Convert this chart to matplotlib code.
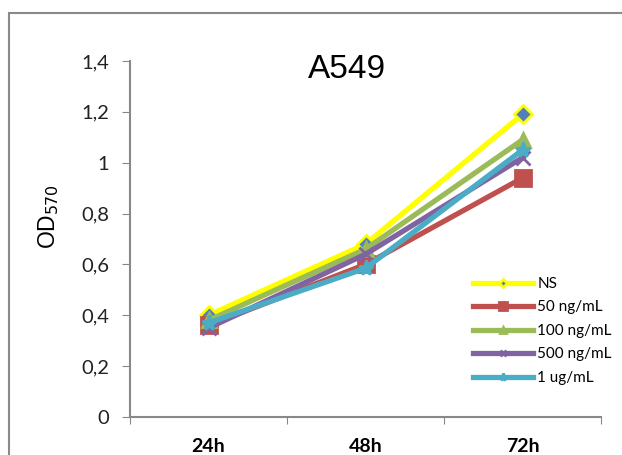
import matplotlib
matplotlib.use("Agg")
import matplotlib.pyplot as plt
from matplotlib.patches import Rectangle

categories = ["24h", "48h", "72h"]
series_names = ["NS", "50 ng/mL", "100 ng/mL", "500 ng/mL", "1 ug/mL"]
ns = [0.40, 0.68, 1.19]
ng50 = [0.36, 0.60, 0.94]
ng100 = [0.38, 0.66, 1.09]
ng500 = [0.35, 0.64, 1.02]
ug1 = [0.37, 0.585, 1.05]
yticks = [0, 0.2, 0.4, 0.6, 0.8, 1.0, 1.2, 1.4]
ytick_labels = ["0", "0,2", "0,4", "0,6", "0,8", "1", "1,2", "1,4"]

colors = ["#FFFF00", "#C0504D", "#9BBB59", "#8064A2", "#4BACC6"]
markers = ["D", "s", "^", "x", "*"]
mfc = ["#4F81BD", "#C0504D", "#9BBB59", "#8064A2", "#4BACC6"]
msz = [9, 11, 10, 10, 11]

fig = plt.figure(figsize=(6.22, 4.55), dpi=100)
fig.patches.append(Rectangle((9/622, -0.1), 1.0, 1 - 13/455 + 0.1, transform=fig.transFigure,
                             fill=False, edgecolor="#8a8a8a", linewidth=1.5))
ax = fig.add_axes([130/622, 1 - 417/455, (601 - 130)/622, (417 - 61)/455])

x = list(range(len(categories)))
data = [ns, ng50, ng100, ng500, ug1]
for vals, name, c, m, fc, s in zip(data, series_names, colors, markers, mfc, msz):
    ax.plot(x, vals, color=c, linewidth=3.8, marker=m, markersize=s,
            markerfacecolor=fc, markeredgecolor=c, markeredgewidth=2.0, label=name,
            solid_joinstyle="miter")

ax.set_xlim(-0.5, 2.5)
ax.set_ylim(0, 1.4)
ax.set_yticks(yticks)
ax.set_yticklabels(ytick_labels, fontsize=14.5, family="Lato", color="#222222")
ax.set_xticks([-0.5, 0.5, 1.5, 2.5])
ax.set_xticklabels([])
ax.set_xticks(x, minor=True)
ax.set_xticklabels(categories, minor=True, fontsize=14, fontweight="bold", family="Lato")
ax.tick_params(axis="x", which="minor", length=0, pad=15)
ax.tick_params(axis="x", which="major", length=5, color="#888888", direction="out")
ax.tick_params(axis="y", length=6, color="#888888", direction="out", pad=9)
for sp in ["top", "right"]:
    ax.spines[sp].set_visible(False)
for sp in ["left", "bottom"]:
    ax.spines[sp].set_color("#888888")
    ax.spines[sp].set_linewidth(1.5)

fig.text(49/622, 1 - 217/455, r"OD$_{570}$", fontsize=16.5, family="Liberation Sans",
         rotation=90, ha="center", va="center")
fig.text(347/622, 1 - 70/455, "A549", fontsize=24, family="Liberation Sans",
         ha="center", va="center")

handles, labels = ax.get_legend_handles_labels()
leg = fig.legend(handles, labels, loc="upper left", bbox_to_anchor=(473/622, 1 - 277/455),
                 frameon=False, handlelength=3.9, handletextpad=0.3, borderpad=0,
                 borderaxespad=0, labelspacing=0.62, markerscale=0.5,
                 prop={"family": "Lato", "size": 11})

fig.savefig("out.png", dpi=100)
